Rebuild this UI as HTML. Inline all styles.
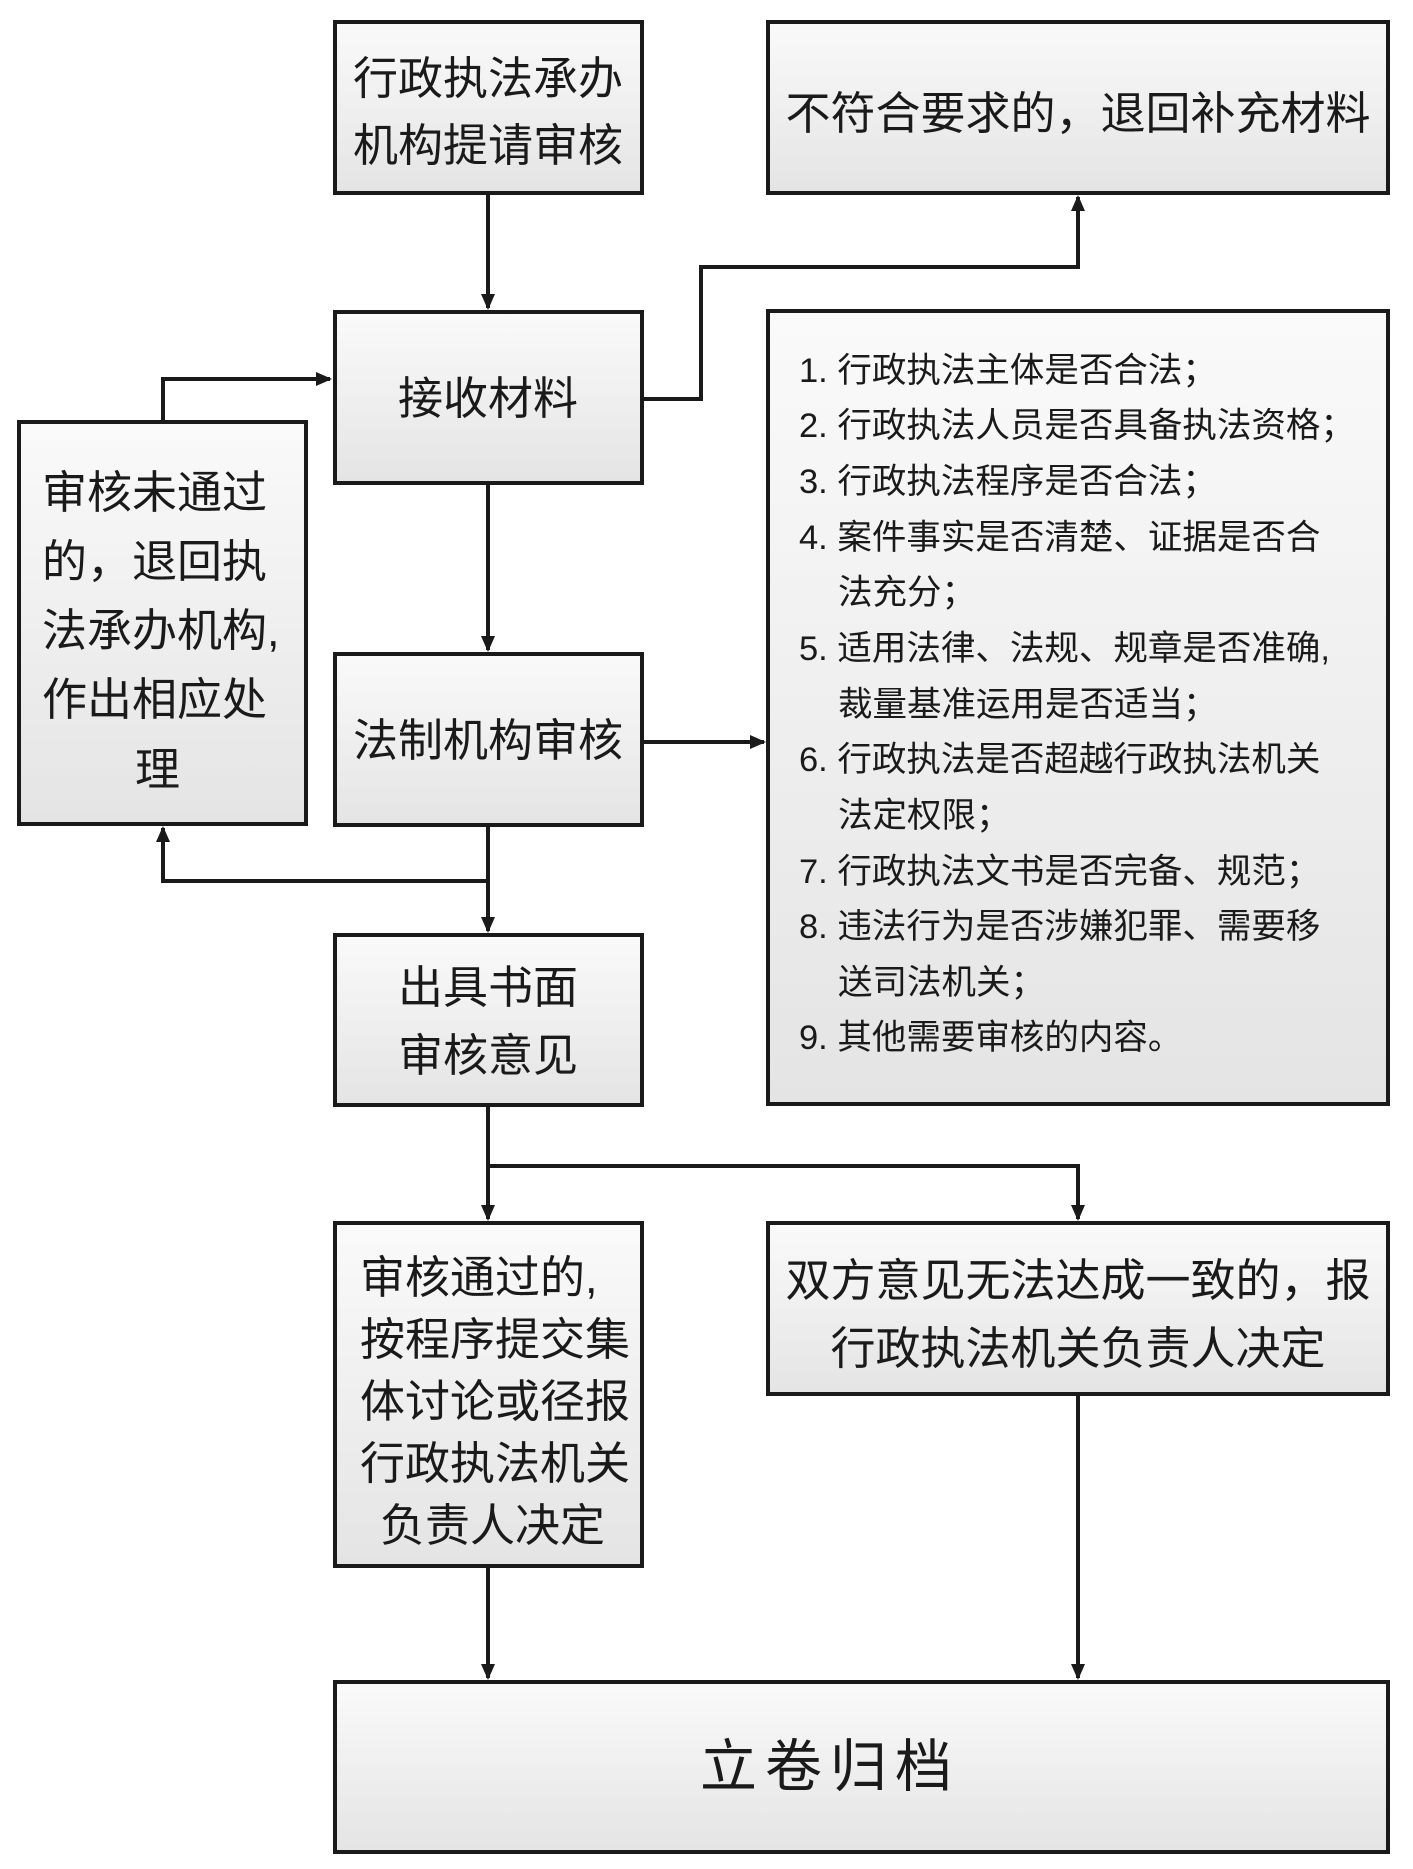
<!DOCTYPE html>
<html><head><meta charset="utf-8"><style>
html,body{margin:0;padding:0;background:#fff;}
svg{display:block;}
text{font-family:"Liberation Sans","Noto Sans CJK SC",sans-serif;fill:#1a1a1a;}
</style></head><body>
<svg width="1413" height="1869" viewBox="0 0 1413 1869" xmlns="http://www.w3.org/2000/svg">
<defs>
<linearGradient id="g" x1="0" y1="0" x2="0" y2="1"><stop offset="0" stop-color="#fafafa"/><stop offset="1" stop-color="#e4e4e4"/></linearGradient>
<marker id="a" markerWidth="16" markerHeight="14" refX="14" refY="7" orient="auto" markerUnits="userSpaceOnUse" viewBox="0 0 16 14"><path d="M0,0 L16,7 L0,14 z" fill="#1a1a1a"/></marker>
</defs>
<g fill="url(#g)" stroke="#1a1a1a" stroke-width="4">
<rect x="335" y="22" width="307" height="171"/>
<rect x="768" y="22" width="620" height="171"/>
<rect x="335" y="312" width="307" height="171"/>
<rect x="19" y="422" width="287" height="402"/>
<rect x="335" y="654" width="307" height="171"/>
<rect x="768" y="311" width="620" height="793"/>
<rect x="335" y="935" width="307" height="170"/>
<rect x="335" y="1223" width="307" height="343"/>
<rect x="768" y="1223" width="620" height="171"/>
<rect x="335" y="1682" width="1053" height="170"/>
</g>
<g fill="none" stroke="#1a1a1a" stroke-width="4">
<path d="M488 193 V308" marker-end="url(#a)"/>
<path d="M642 399 H701 V267 H1078 V197" marker-end="url(#a)"/>
<path d="M163 422 V379 H330" marker-end="url(#a)"/>
<path d="M488 483 V650" marker-end="url(#a)"/>
<path d="M642 742 H764" marker-end="url(#a)"/>
<path d="M488 825 V931" marker-end="url(#a)"/>
<path d="M488 881 H163 V828" marker-end="url(#a)"/>
<path d="M488 1105 V1219" marker-end="url(#a)"/>
<path d="M488 1166 H1078 V1219" marker-end="url(#a)"/>
<path d="M488 1566 V1678" marker-end="url(#a)"/>
<path d="M1078 1394 V1678" marker-end="url(#a)"/>
</g>
<g font-size="45" text-anchor="middle">
<text x="488" y="94">行政执法承办</text>
<text x="488" y="161">机构提请审核</text>
<text x="1078" y="129">不符合要求的，退回补充材料</text>
<text x="488" y="414">接收材料</text>
<text x="488" y="756">法制机构审核</text>
<text x="488" y="1003">出具书面</text>
<text x="488" y="1071">审核意见</text>
<text x="1078" y="1296">双方意见无法达成一致的，报</text>
<text x="1078" y="1364">行政执法机关负责人决定</text>
</g>
<g font-size="45">
<text x="42" y="508">审核未通过</text>
<text x="42" y="577">的，退回执</text>
<text x="42" y="646">法承办机构,</text>
<text x="42" y="715">作出相应处</text>
<text x="135" y="785">理</text>
<text x="360" y="1293">审核通过的,</text>
<text x="360" y="1355">按程序提交集</text>
<text x="360" y="1417">体讨论或径报</text>
<text x="360" y="1479">行政执法机关</text>
<text x="380" y="1541">负责人决定</text>
</g>
<text x="830" y="1786" font-size="57" text-anchor="middle" letter-spacing="8">立卷归档</text>
<g font-size="34.5">
<text x="799" y="382">1. 行政执法主体是否合法；</text>
<text x="799" y="437">2. 行政执法人员是否具备执法资格；</text>
<text x="799" y="493">3. 行政执法程序是否合法；</text>
<text x="799" y="549">4. 案件事实是否清楚、证据是否合</text>
<text x="838" y="604">法充分；</text>
<text x="799" y="660">5. 适用法律、法规、规章是否准确,</text>
<text x="838" y="716">裁量基准运用是否适当；</text>
<text x="799" y="771">6. 行政执法是否超越行政执法机关</text>
<text x="838" y="827">法定权限；</text>
<text x="799" y="883">7. 行政执法文书是否完备、规范；</text>
<text x="799" y="938">8. 违法行为是否涉嫌犯罪、需要移</text>
<text x="838" y="994">送司法机关；</text>
<text x="799" y="1049">9. 其他需要审核的内容。</text>
</g>
</svg>
</body></html>
